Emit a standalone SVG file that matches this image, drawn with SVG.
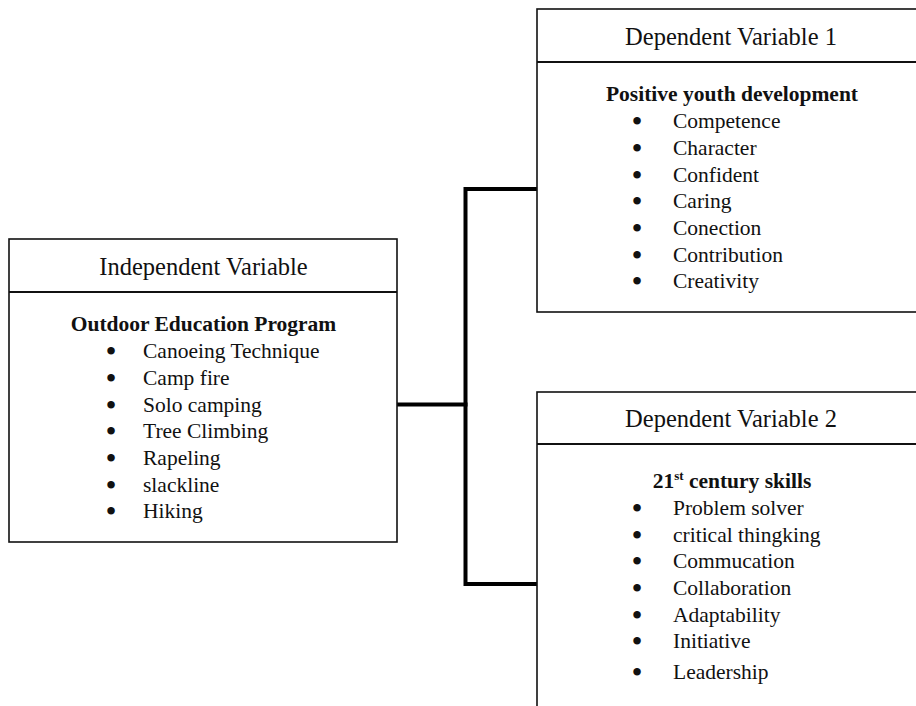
<svg xmlns="http://www.w3.org/2000/svg" width="916" height="706" viewBox="0 0 916 706">
<style>
.box{fill:#fff;stroke:#111;stroke-width:1.6}
.div{stroke:#111;stroke-width:1.8}
.conn{fill:none;stroke:#000;stroke-width:4;stroke-linejoin:miter;stroke-linecap:square}
text{font-family:"Liberation Serif","Times New Roman",serif;fill:#111}
.hd{font-size:24.5px;text-anchor:middle}
.tt{font-size:21.5px;font-weight:bold;text-anchor:middle}
.it{font-size:21.5px}
.bl{font-size:23px;text-anchor:middle;stroke:#111;stroke-width:2}
</style>
<rect width="916" height="706" fill="#fff"/>
<g id="connectors">
<path class="conn" d="M397 404.5 H465.5"/>
<path class="conn" d="M537 189 H465.5 V584 H537"/>
</g>
<g id="independent">
<rect class="box" x="9" y="239" width="388" height="303"/>
<line class="div" x1="9" y1="292" x2="397" y2="292"/>
<text class="hd" x="203.5" y="275">Independent Variable</text>
<text class="tt" x="203.5" y="331">Outdoor Education Program</text>
<text class="bl" x="111" y="359">•</text>
<text class="bl" x="111" y="386">•</text>
<text class="bl" x="111" y="413">•</text>
<text class="bl" x="111" y="439">•</text>
<text class="bl" x="111" y="466">•</text>
<text class="bl" x="111" y="493">•</text>
<text class="bl" x="111" y="519">•</text>
<text class="it" x="143" y="358">Canoeing Technique</text>
<text class="it" x="143" y="385">Camp fire</text>
<text class="it" x="143" y="412">Solo camping</text>
<text class="it" x="143" y="438">Tree Climbing</text>
<text class="it" x="143" y="465">Rapeling</text>
<text class="it" x="143" y="492">slackline</text>
<text class="it" x="143" y="518">Hiking</text>
</g>
<g id="dependent1">
<rect class="box" x="537" y="9" width="400" height="303"/>
<line class="div" x1="537" y1="62" x2="937" y2="62"/>
<text class="hd" x="731" y="45">Dependent Variable 1</text>
<text class="tt" x="732" y="101">Positive youth development</text>
<text class="bl" x="637" y="129">•</text>
<text class="bl" x="637" y="156">•</text>
<text class="bl" x="637" y="183">•</text>
<text class="bl" x="637" y="209">•</text>
<text class="bl" x="637" y="236">•</text>
<text class="bl" x="637" y="263">•</text>
<text class="bl" x="637" y="289">•</text>
<text class="it" x="673" y="128">Competence</text>
<text class="it" x="673" y="155">Character</text>
<text class="it" x="673" y="182">Confident</text>
<text class="it" x="673" y="208">Caring</text>
<text class="it" x="673" y="235">Conection</text>
<text class="it" x="673" y="262">Contribution</text>
<text class="it" x="673" y="288">Creativity</text>
</g>
<g id="dependent2">
<rect class="box" x="537" y="392" width="400" height="400"/>
<line class="div" x1="537" y1="444" x2="937" y2="444"/>
<text class="hd" x="731" y="427">Dependent Variable 2</text>
<text class="tt" x="732" y="488">21<tspan font-size="13" dy="-8">st</tspan><tspan dy="8"> century skills</tspan></text>
<text class="bl" x="637" y="516">•</text>
<text class="bl" x="637" y="543">•</text>
<text class="bl" x="637" y="569">•</text>
<text class="bl" x="637" y="596">•</text>
<text class="bl" x="637" y="623">•</text>
<text class="bl" x="637" y="649">•</text>
<text class="bl" x="637" y="680">•</text>
<text class="it" x="673" y="515">Problem solver</text>
<text class="it" x="673" y="542">critical thingking</text>
<text class="it" x="673" y="568">Commucation</text>
<text class="it" x="673" y="595">Collaboration</text>
<text class="it" x="673" y="622">Adaptability</text>
<text class="it" x="673" y="648">Initiative</text>
<text class="it" x="673" y="679">Leadership</text>
</g>
</svg>
